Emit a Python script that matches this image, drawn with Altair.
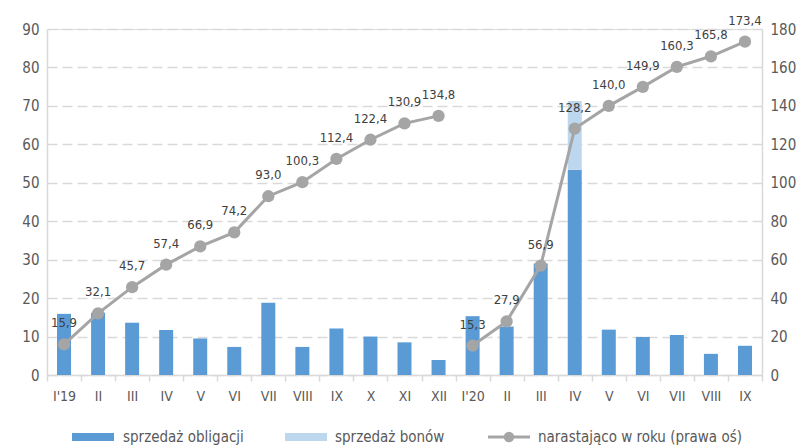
import altair as alt
import pandas as pd

# month labels (two years) and the year each belongs to
months = ["I'19", "II", "III", "IV", "V", "VI", "VII", "VIII", "IX", "X", "XI", "XII",
          "I'20", "II", "III", "IV", "V", "VI", "VII", "VIII", "IX"]
years = [2019] * 12 + [2020] * 9

# monthly sales, bn PLN (left axis)
bonds = [15.9, 16.2, 13.6, 11.7, 9.5, 7.3, 18.8, 7.3, 12.1, 10.0, 8.5, 3.9,
         15.3, 12.6, 29.0, 53.4, 11.8, 9.9, 10.4, 5.5, 7.6]
bills = [0, 0, 0, 0, 0, 0, 0, 0, 0, 0, 0, 0,
         0, 0, 0, 17.9, 0, 0, 0, 0, 0]

# cumulative within the year (right axis)
cumulative = [15.9, 32.1, 45.7, 57.4, 66.9, 74.2, 93.0, 100.3, 112.4, 122.4, 130.9, 134.8,
              15.3, 27.9, 56.9, 128.2, 140.0, 149.9, 160.3, 165.8, 173.4]

S_BONDS = "sprzedaż obligacji"
S_BILLS = "sprzedaż bonów"
S_CUM = "narastająco w roku (prawa oś)"

keys = [f"{m}|{y}" for m, y in zip(months, years)]

bars_df = pd.DataFrame(
    [{"key": k, "series": S_BONDS, "value": v, "ord": 0} for k, v in zip(keys, bonds)]
    + [{"key": k, "series": S_BILLS, "value": v, "ord": 1} for k, v in zip(keys, bills)]
)
line_df = pd.DataFrame({
    "key": keys,
    "year": years,
    "cum": cumulative,
    "label": [f"{v:.1f}".replace(".", ",") for v in cumulative],
})

FONT = "DejaVu Sans Condensed, Liberation Sans, sans-serif"
GREY_TXT = "#595959"
AX = "#d9d9d9"
BLUE = "#5b9bd5"
LIGHT = "#bdd7ee"
LINE = "#a5a5a5"

x_enc = alt.X(
    "key:N", sort=keys, title=None,
    scale=alt.Scale(paddingInner=0, paddingOuter=0),
    axis=alt.Axis(
        labelExpr="split(datum.label, '|')[0]", labelAngle=0, labelFontSize=14,
        labelColor=GREY_TXT, labelFont=FONT, labelPadding=8,
        domainColor=AX, domainWidth=1.5, tickColor=AX, tickWidth=1.5, tickSize=6,
        tickBand="extent", grid=False,
    ),
)

bars = alt.Chart(bars_df).mark_bar(size=14).encode(
    x=x_enc,
    y=alt.Y(
        "sum(value):Q", title=None, stack="zero",
        scale=alt.Scale(domain=[0, 90], nice=False),
        axis=alt.Axis(
            values=list(range(0, 91, 10)), labelFontSize=15, labelColor=GREY_TXT,
            labelFont=FONT, labelPadding=8, ticks=False, labelOverlap=False,
            domainColor=AX, domainWidth=1.5,
            grid=True, gridColor=AX, gridWidth=1.5, gridDash=[10, 5],
        ),
    ),
    color=alt.Color("series:N", scale=alt.Scale(domain=[S_BONDS, S_BILLS], range=[BLUE, LIGHT]),
                    legend=None),
    order=alt.Order("ord:Q"),
)

right_axis = alt.Axis(
    orient="right", values=list(range(0, 181, 20)), labelFontSize=15,
    labelColor=GREY_TXT, labelFont=FONT, labelPadding=8, ticks=False,
    labelOverlap=False, domainColor=AX, domainWidth=1.5, grid=False,
)
right_y = alt.Y("cum:Q", title=None, scale=alt.Scale(domain=[0, 180], nice=False),
                axis=right_axis)
x_plain = alt.X("key:N", sort=keys)

line = alt.Chart(line_df).mark_line(color=LINE, strokeWidth=3).encode(
    x=x_plain, y=right_y, detail="year:N",
)
points = alt.Chart(line_df).mark_circle(color=LINE, size=150, opacity=1).encode(
    x=x_plain, y=right_y,
)
labels = alt.Chart(line_df).mark_text(
    font=FONT, fontSize=13, color="#404040", dy=-21, baseline="middle"
).encode(
    x=x_plain, y=right_y, text="label:N",
)

# legend row below the axis
one = pd.DataFrame({"k": [0]})
LY = 408
leg_bonds = alt.Chart(one).mark_rect(color=BLUE).encode(
    x=alt.value(25), x2=alt.value(67), y=alt.value(LY - 4), y2=alt.value(LY + 4))
leg_bonds_t = alt.Chart(one).mark_text(align="left", baseline="middle", font=FONT,
                                       fontSize=15, color=GREY_TXT).encode(
    x=alt.value(76), y=alt.value(LY), text=alt.value(S_BONDS))
leg_bills = alt.Chart(one).mark_rect(color=LIGHT).encode(
    x=alt.value(238), x2=alt.value(280), y=alt.value(LY - 4), y2=alt.value(LY + 4))
leg_bills_t = alt.Chart(one).mark_text(align="left", baseline="middle", font=FONT,
                                       fontSize=15, color=GREY_TXT).encode(
    x=alt.value(288), y=alt.value(LY), text=alt.value(S_BILLS))
leg_line = alt.Chart(one).mark_rule(color=LINE, strokeWidth=3).encode(
    x=alt.value(441), x2=alt.value(483), y=alt.value(LY))
leg_dot = alt.Chart(one).mark_circle(color=LINE, size=110, opacity=1).encode(
    x=alt.value(462), y=alt.value(LY))
leg_line_t = alt.Chart(one).mark_text(align="left", baseline="middle", font=FONT,
                                      fontSize=15, color=GREY_TXT).encode(
    x=alt.value(491), y=alt.value(LY), text=alt.value(S_CUM))

right = alt.layer(line, points, labels)

chart = alt.layer(
    bars, right,
    leg_bonds, leg_bonds_t, leg_bills, leg_bills_t, leg_line, leg_dot, leg_line_t,
).resolve_scale(y="independent").properties(
    width=715, height=346,
    autosize=alt.AutoSizeParams(type="none"),
    padding={"left": 47, "top": 29, "right": 50, "bottom": 72},
).configure_view(stroke=None).configure(background="white")

chart.save("out.html", embed_options={"renderer": "svg", "actions": False})
